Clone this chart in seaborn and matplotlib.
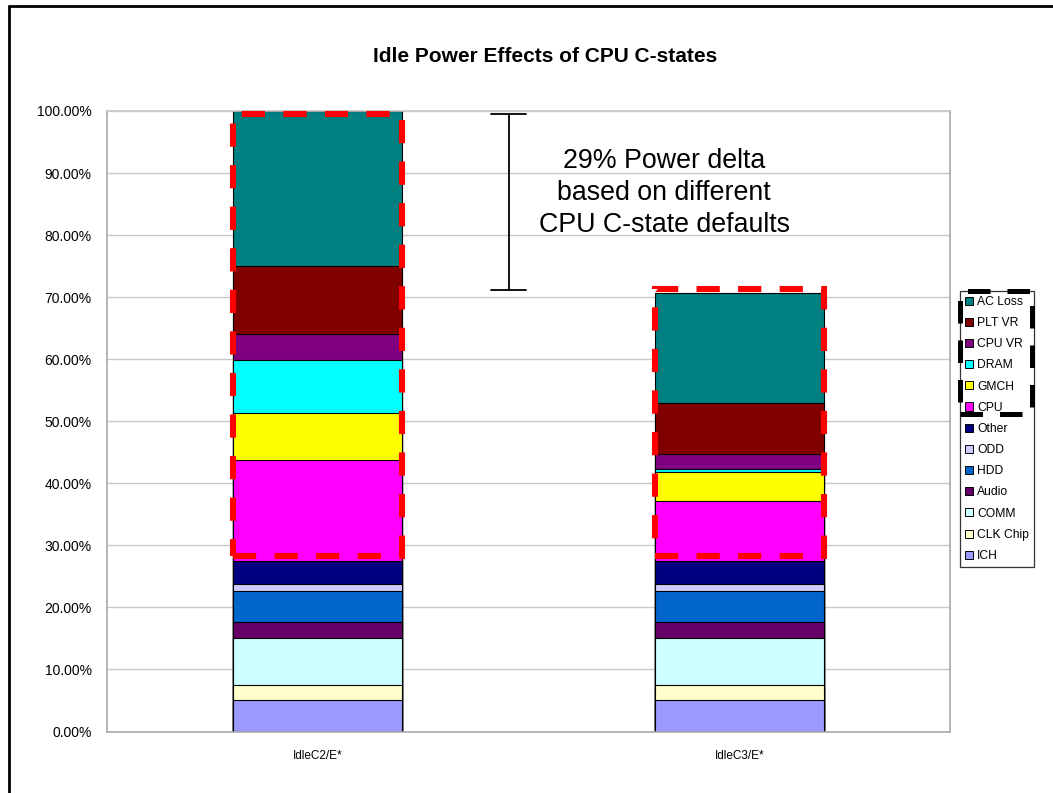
import numpy as np
import pandas as pd
import matplotlib
matplotlib.use("Agg")
import matplotlib.pyplot as plt
from matplotlib.patches import Patch, Rectangle
from matplotlib.lines import Line2D
from matplotlib.ticker import PercentFormatter, FixedLocator
import seaborn as sns

# ---- data (share of idle platform power, %) ----
configs = ["IdleC2/E*", "IdleC3/E*"]
components = ["ICH", "CLK Chip", "COMM", "Audio", "HDD", "ODD", "Other",
              "CPU", "GMCH", "DRAM", "CPU VR", "PLT VR", "AC Loss"]
idle_c2 = [5.0, 2.5, 7.5, 2.6, 5.0, 1.1, 3.7, 16.3, 7.7, 8.5, 4.1, 11.0, 25.0]
idle_c3 = [5.0, 2.5, 7.5, 2.6, 5.0, 1.1, 3.7, 9.8, 4.7, 0.4, 2.5, 8.2, 17.7]
colors = ["#9999FF", "#FFFFCC", "#CCFFFF", "#660066", "#0066CC", "#CCCCFF",
          "#000080", "#FF00FF", "#FFFF00", "#00FFFF", "#800080", "#800000",
          "#008080"]
delta_text = "29% Power delta\nbased on different\nCPU C-state defaults"

sns.set_style("white")
plt.rcParams["font.family"] = ["Liberation Sans", "DejaVu Sans"]
plt.rcParams.update({"text.color": "black", "axes.labelcolor": "black",
                     "xtick.color": "black", "ytick.color": "black"})

df = pd.DataFrame({"config": np.repeat(configs, len(components)),
                   "component": components * len(configs),
                   "share": idle_c2 + idle_c3})
df["cum"] = df.groupby("config")["share"].cumsum()

W, H = 1053, 793
fig = plt.figure(figsize=(W / 100, H / 100), dpi=100)
ax = fig.add_axes([107 / W, 1 - 731.5 / H, (950 - 107) / W, (731.5 - 111) / H])

# stacked bars: draw cumulative heights from the top layer down
for comp, col in reversed(list(zip(components, colors))):
    sub = df[df["component"] == comp]
    sns.barplot(data=sub, x="config", y="cum", order=configs, color=col,
                saturation=1, width=0.4, edgecolor="black", linewidth=0.8,
                errorbar=None, ax=ax)

ax.set_xlim(-0.5, 1.5)
ax.set_ylim(0, 100)
ax.set_xlabel("")
ax.set_ylabel("")
ax.yaxis.set_major_locator(FixedLocator(np.arange(0, 101, 10)))
ax.yaxis.set_major_formatter(PercentFormatter(xmax=100, decimals=2))
ax.yaxis.grid(True, color="#C8C8C8", linewidth=1.0)
ax.set_axisbelow(True)
for side in ["left", "bottom", "right", "top"]:
    ax.spines[side].set_visible(True)
    ax.spines[side].set_color("#A8A8A8")
    ax.spines[side].set_linewidth(1.2)
ax.spines["top"].set_color("#C8C8C8")
ax.tick_params(axis="y", length=5, color="#A8A8A8", labelsize=10, pad=6,
               labelcolor="black")
ax.tick_params(axis="x", which="major", length=0, labelsize=8.5, pad=13,
               labelcolor="black")
ax.set_xticks([-0.5, 0.5, 1.5], minor=True)
ax.tick_params(axis="x", which="minor", length=5, color="#A8A8A8")

# red dashed outlines around the CPU-related components
dash_red = dict(fill=False, edgecolor="#FF0000", linewidth=4.4,
                linestyle=(0, (3.8, 3.0)), zorder=6, clip_on=False)
ax.add_patch(Rectangle((-0.2, 28.3), 0.4, 99.5 - 28.3, **dash_red))
ax.add_patch(Rectangle((0.8, 28.3), 0.4, 71.3 - 28.3, **dash_red))

# bracket showing the power difference
top_l = sum(idle_c2) - 0.5
top_r = sum(idle_c3) + 0.4
bx = 0.453
ax.plot([bx, bx], [top_r, top_l], color="black", lw=1.3, zorder=5)
ax.plot([bx - 0.041, bx + 0.041], [top_l, top_l], color="black", lw=1.3, zorder=5)
ax.plot([bx - 0.041, bx + 0.041], [top_r, top_r], color="black", lw=1.3, zorder=5)
ax.text(0.822, 86.8, delta_text, ha="center", va="center", fontsize=19.3,
        linespacing=1.3, color="black", zorder=5)

fig.text(545 / W, 1 - 57 / H, "Idle Power Effects of CPU C-states",
         ha="center", va="center", fontsize=15, fontweight="bold",
         color="black")

# legend (top entry = top of stack)
handles = [Patch(facecolor=c, edgecolor="black", linewidth=0.7)
           for c in reversed(colors)]
leg = fig.legend(handles, list(reversed(components)), loc="upper left",
                 bbox_to_anchor=(960 / W, 1 - 291 / H), frameon=True,
                 fontsize=8.7, handlelength=0.65, handleheight=0.65,
                 handletextpad=0.35, labelspacing=0.76, borderpad=0.4,
                 borderaxespad=0, fancybox=False)
leg.get_frame().set_edgecolor("black")
leg.get_frame().set_linewidth(0.9)

# black dashed outline over the first legend entries
fig.add_artist(Rectangle((960 / W, 1 - 414 / H), 72 / W, 123 / H,
                         transform=fig.transFigure, fill=False,
                         edgecolor="black", linewidth=3.6,
                         linestyle=(0, (4.5, 3.4)), zorder=10))

# chart frame
fig.add_artist(Line2D([8.5 / W, 1], [1 - 6 / H, 1 - 6 / H], color="black",
                      lw=2.0, transform=fig.transFigure))
fig.add_artist(Line2D([8.5 / W, 8.5 / W], [0, 1 - 6 / H], color="black",
                      lw=2.0, transform=fig.transFigure))

fig.savefig("out.png", dpi=100, facecolor="white")
